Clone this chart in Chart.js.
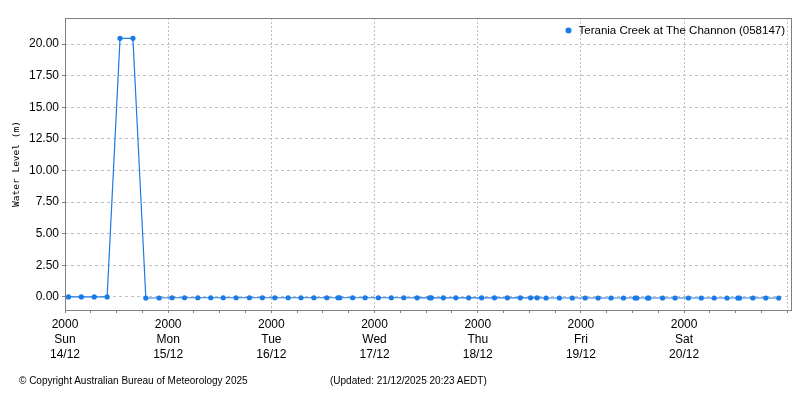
<!DOCTYPE html>
<html>
<head>
<meta charset="utf-8">
<script src="https://cdn.jsdelivr.net/npm/chart.js@4/dist/chart.umd.min.js"></script>
<style>
  html, body { margin: 0; padding: 0; background: #ffffff; }
  #wrap { position: relative; width: 800px; height: 400px; }
  #c { position: absolute; left: 0; top: 0; }
  .foot { position: absolute; top: 375px; font: 10px "Liberation Sans", Arial, sans-serif; color: #000; white-space: nowrap; }
</style>
</head>
<body>
<div id="wrap">
  <canvas id="c" width="800" height="400"></canvas>
  <div class="foot" style="left:19px;">© Copyright Australian Bureau of Meteorology 2025</div>
  <div class="foot" style="left:330px;">(Updated: 21/12/2025 20:23 AEDT)</div>
</div>
<script>
// ---- data (hours after Sun 14/12 20:00) ----
const seriesLabel = 'Terania Creek at The Channon (058147)';
const timeHours = [0.8, 3.8, 6.8, 9.8, 12.8, 15.8, 18.8, 21.9, 24.9, 27.8, 30.9, 33.9, 36.8, 39.8, 42.9, 45.9,
  48.8, 51.9, 54.9, 57.9, 60.9, 63.5, 63.9, 66.9, 69.8, 72.9, 75.9, 78.8, 81.9, 84.8, 85.2, 88.0, 90.9, 93.9,
  96.9, 99.9, 102.9, 105.9, 108.3, 109.8, 111.9, 115.0, 118.0, 121.0, 124.0, 127.0, 129.9, 132.6, 133.0,
  135.5, 135.8, 139.0, 141.9, 145.0, 148.0, 151.0, 154.0, 156.5, 156.9, 160.0, 163.0, 166.0];
const waterLevel = [0.00, 0.00, 0.00, 0.00, 20.45, 20.45, -0.08, -0.08, -0.06, -0.06, -0.06, -0.06, -0.06, -0.06, -0.06, -0.06,
  -0.06, -0.06, -0.06, -0.06, -0.06, -0.06, -0.06, -0.06, -0.06, -0.06, -0.06, -0.06, -0.07, -0.07, -0.07, -0.07, -0.07, -0.07,
  -0.07, -0.07, -0.07, -0.07, -0.07, -0.07, -0.08, -0.08, -0.08, -0.08, -0.08, -0.08, -0.08, -0.08, -0.08,
  -0.08, -0.08, -0.08, -0.08, -0.08, -0.08, -0.08, -0.08, -0.08, -0.08, -0.08, -0.08, -0.08];
const yTicks = [0, 2.5, 5, 7.5, 10, 12.5, 15, 17.5, 20];
const xTickHours = [0, 6, 12, 18, 24, 30, 36, 42, 48, 54, 60, 66, 72, 78, 84, 90, 96, 102, 108, 114,
  120, 126, 132, 138, 144, 150, 156, 162, 168];
const xMajorHours = [0, 24, 48, 72, 96, 120, 144];
const xLabelTime = ['2000', '2000', '2000', '2000', '2000', '2000', '2000'];
const xLabelDay = ['Sun', 'Mon', 'Tue', 'Wed', 'Thu', 'Fri', 'Sat'];
const xLabelDate = ['14/12', '15/12', '16/12', '17/12', '18/12', '19/12', '20/12'];
const gridDayHours = [0, 24, 48, 72, 96, 120, 144, 168];

const points = timeHours.map((t, i) => ({ x: t, y: waterLevel[i] }));
const blue = '#1a7be6';
const font = 'Liberation Sans';

const framePlugin = {
  id: 'frame',
  afterDraw(chart) {
    const { ctx, chartArea: a } = chart;
    ctx.save();
    ctx.strokeStyle = '#808080';
    ctx.lineWidth = 1;
    ctx.setLineDash([]);
    ctx.strokeRect(a.left + 0.5, a.top + 0.5, a.right - a.left - 1, a.bottom - a.top);
    // legend inside the plot, top right
    const ds = chart.data.datasets[0];
    ctx.font = '11.5px "' + font + '"';
    ctx.textBaseline = 'middle';
    ctx.textAlign = 'right';
    ctx.fillStyle = '#000';
    const tx = a.right - 7, ty = a.top + 12.5;
    ctx.fillText(ds.label, tx, ty);
    const w = ctx.measureText(ds.label).width;
    ctx.beginPath();
    ctx.fillStyle = ds.borderColor;
    ctx.arc(tx - w - 10, ty, 3, 0, Math.PI * 2);
    ctx.fill();
    ctx.restore();
  }
};

new Chart(document.getElementById('c'), {
  type: 'line',
  data: {
    datasets: [{
      label: seriesLabel,
      data: points,
      borderColor: blue,
      backgroundColor: blue,
      borderWidth: 1.2,
      pointRadius: 2.6,
      pointHoverRadius: 2.6,
      pointBorderWidth: 0,
      pointStyle: 'circle',
      tension: 0,
      fill: false
    }]
  },
  options: {
    responsive: false,
    animation: false,
    layout: { padding: { left: 0, right: 8, top: 18, bottom: 0 } },
    plugins: {
      legend: { display: false },
      tooltip: { enabled: false }
    },
    scales: {
      x: {
        type: 'linear',
        min: 0,
        max: 169.1,
        afterBuildTicks(scale) { scale.ticks = xTickHours.map(v => ({ value: v })); },
        afterFit(scale) { scale.height = 90; },
        border: { display: false, dash: [2, 2] },
        grid: {
          color: ctx => (ctx.tick && gridDayHours.includes(ctx.tick.value)) ? '#c0c0c0' : 'rgba(0,0,0,0)',
          tickColor: '#808080',
          tickLength: 3,
          lineWidth: 1
        },
        ticks: {
          autoSkip: false,
          maxRotation: 0,
          minRotation: 0,
          padding: 4,
          color: '#000',
          font: { family: font, size: 12, lineHeight: 1.25 },
          callback(value) {
            const i = xMajorHours.indexOf(value);
            return i >= 0 ? [xLabelTime[i], xLabelDay[i], xLabelDate[i]] : '';
          }
        }
      },
      y: {
        type: 'linear',
        min: -1.03,
        max: 22.06,
        afterBuildTicks(scale) { scale.ticks = yTicks.map(v => ({ value: v })); },
        afterFit(scale) { scale.width = 65; },
        border: { display: false, dash: [3, 3] },
        grid: {
          color: '#c0c0c0',
          tickColor: '#808080',
          tickLength: 3,
          lineWidth: 1
        },
        ticks: {
          padding: 3,
          color: '#000',
          font: { family: font, size: 12 },
          callback: v => Number(v).toFixed(2)
        },
        title: {
          display: true,
          text: 'Water Level (m)',
          color: '#000',
          font: { family: 'DejaVu Sans Mono', size: 9.5 },
          padding: { top: 11, bottom: 0 }
        }
      }
    }
  },
  plugins: [framePlugin]
});
</script>
</body>
</html>
